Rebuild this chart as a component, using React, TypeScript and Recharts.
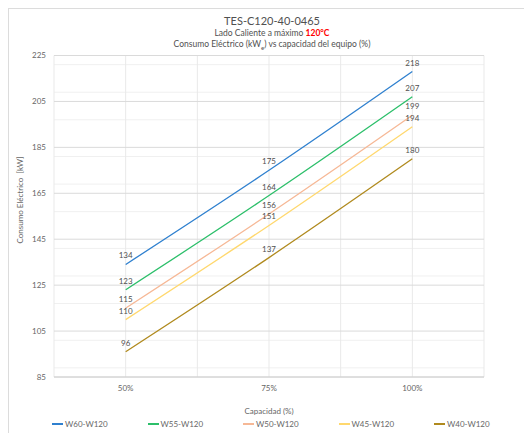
import React from "react"
import { CartesianGrid, LabelList, Line, LineChart, XAxis, YAxis } from "recharts"

const capacities = ["50%", "75%", "100%"]

const w60 = [134, 175, 218]
const w55 = [123, 164, 207]
const w50 = [115, 156, 199]
const w45 = [110, 151, 194]
const w40 = [96, 137, 180]

const yTicks = [85, 105, 125, 145, 165, 185, 205, 225]
const yMinor = [89, 93, 97, 101, 109, 113, 117, 121, 129, 133, 137, 141, 149, 153, 157, 161, 169, 173, 177, 181, 189, 193, 197, 201, 209, 213, 217, 221]

const series = [
    { key: "w60", name: "W60-W120", values: w60, color: "#2F80CF" },
    { key: "w55", name: "W55-W120", values: w55, color: "#2CBF6A" },
    { key: "w50", name: "W50-W120", values: w50, color: "#F6B896" },
    { key: "w45", name: "W45-W120", values: w45, color: "#FFD86E" },
    { key: "w40", name: "W40-W120", values: w40, color: "#B08A1E" },
]

const data = capacities.map((cap, i) => {
    const row: Record<string, string | number> = { cap }
    series.forEach((s) => {
        row[s.key] = s.values[i]
    })
    return row
})

const font = "Lato, 'Open Sans', sans-serif"

// vertical grid every half category band, like the Excel major+minor gridlines
const verticalLines = ({ offset }: any) => {
    const out: number[] = []
    for (let i = 0; i <= capacities.length * 2; i++) {
        out.push(offset.left + (i * offset.width) / (capacities.length * 2))
    }
    return out
}

export default function App() {
    return (
        <div style={{ position: "relative", width: 516, height: 425, fontFamily: font, color: "#666666" }}>
            <div
                style={{
                    position: "absolute",
                    left: 0,
                    top: 0,
                    width: 516,
                    height: 425,
                    borderTop: "1px solid #dcdcdc",
                    borderLeft: "1px solid #dcdcdc",
                    boxSizing: "border-box",
                }}
            />
            <div style={{ position: "absolute", left: 0, width: 528, top: 7, textAlign: "center", lineHeight: "1" }}>
                <div style={{ fontSize: 11, color: "#505050" }}>TES-C120-40-0465</div>
                <div style={{ fontSize: 8.5, color: "#505050", marginTop: 3 }}>
                    Lado Caliente a máximo <span style={{ color: "#FF0000", fontWeight: 700 }}>120°C</span>
                </div>
                <div style={{ fontSize: 8.5, color: "#505050", marginTop: 2 }}>
                    Consumo Eléctrico (kW<sub style={{ fontSize: 6 }}>e</sub>) vs capacidad del equipo (%)
                </div>
            </div>

            <LineChart width={516} height={425} data={data} margin={{ top: 47.5, right: 40, left: 6, bottom: 26 }}>
                <CartesianGrid
                    stroke="#f0f0f0"
                    vertical={false}
                    horizontalValues={yMinor}
                />
                <CartesianGrid
                    stroke="#e9e9e9"
                    horizontal={false}
                    verticalCoordinatesGenerator={verticalLines}
                />
                <CartesianGrid
                    stroke="#dadada"
                    vertical={false}
                    horizontalValues={yTicks}
                />
                <XAxis
                    dataKey="cap"
                    scale="band"
                    tickLine={false}
                    axisLine={{ stroke: "#d0d0d0" }}
                    tick={{ fill: "#666666", fontSize: 8, fontFamily: font }}
                />
                <YAxis
                    width={40}
                    domain={[85, 225]}
                    ticks={yTicks}
                    tickLine={false}
                    axisLine={false}
                    tick={{ fill: "#666666", fontSize: 8, fontFamily: font }}
                />
                {series.map((s) => (
                    <Line
                        key={s.key}
                        type="monotone"
                        dataKey={s.key}
                        name={s.name}
                        stroke={s.color}
                        strokeWidth={1.3}
                        dot={false}
                        isAnimationActive={false}
                    >
                        <LabelList dataKey={s.key} position="top" offset={6} fill="#505050" fontSize={8} fontFamily={font} />
                    </Line>
                ))}
            </LineChart>

            <div
                style={{
                    position: "absolute",
                    left: 4,
                    top: 192,
                    transform: "translate(-50%, -50%) rotate(-90deg)",
                    transformOrigin: "center",
                    marginLeft: 8,
                    fontSize: 8,
                    whiteSpace: "nowrap",
                }}
            >
                Consumo Eléctrico &nbsp;[kW]
            </div>
            <div style={{ position: "absolute", left: 46, width: 430, top: 398, textAlign: "center", fontSize: 8 }}>
                Capacidad (%)
            </div>
            <div style={{ position: "absolute", left: 44, top: 411, display: "flex" }}>
                {series.map((s) => (
                    <div key={s.key} style={{ width: 95.5, display: "flex", alignItems: "center", fontSize: 8 }}>
                        <span style={{ display: "inline-block", width: 11, height: 1.5, background: s.color, marginRight: 2 }} />
                        {s.name}
                    </div>
                ))}
            </div>
        </div>
    )
}
